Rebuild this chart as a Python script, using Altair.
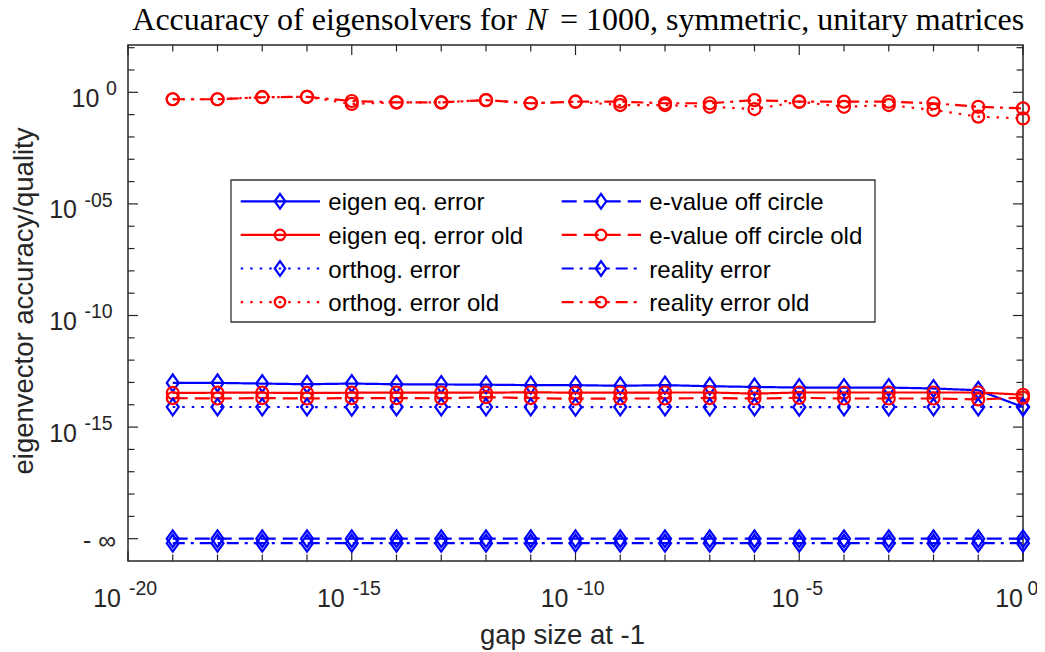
import altair as alt
import pandas as pd

# ---------------- data ----------------
gap_exponent = [-19, -18, -17, -16, -15, -14, -13, -12, -11, -10,
                -9, -8, -7, -6, -5, -4, -3, -2, -1, 0]

series_names = [
    "eigen eq. error", "eigen eq. error old",
    "orthog. error", "orthog. error old",
    "e-value off circle", "e-value off circle old",
    "reality error", "reality error old",
]

# log10 of the plotted values ("-inf" is drawn at 1e-20)
eigen_eq_error = [-13.02, -13.02, -13.05, -13.08, -13.05, -13.08, -13.09, -13.10, -13.12, -13.12,
                  -13.15, -13.12, -13.17, -13.20, -13.23, -13.23, -13.23, -13.27, -13.35, -14.10]
eigen_eq_error_old = [-13.47, -13.46, -13.46, -13.47, -13.46, -13.46, -13.45, -13.46, -13.44, -13.46,
                      -13.46, -13.45, -13.45, -13.50, -13.45, -13.45, -13.45, -13.45, -13.45, -13.55]
orthog_error = [-14.10, -14.10, -14.10, -14.10, -14.11, -14.10, -14.10, -14.10, -14.10, -14.11,
                -14.10, -14.10, -14.10, -14.10, -14.11, -14.10, -14.10, -14.10, -14.10, -14.10]
orthog_error_old = [-0.31, -0.31, -0.22, -0.20, -0.52, -0.45, -0.45, -0.35, -0.49, -0.42,
                    -0.57, -0.57, -0.65, -0.75, -0.42, -0.65, -0.57, -0.79, -1.09, -1.17]
e_value_off_circle = [-20.0, -20.0, -20.0, -20.0, -20.0, -20.0, -20.0, -20.0, -20.0, -20.0,
                      -20.0, -20.0, -20.0, -20.0, -20.0, -20.0, -20.0, -20.0, -20.0, -20.0]
e_value_off_circle_old = [-13.70, -13.72, -13.70, -13.72, -13.70, -13.70, -13.71, -13.66, -13.70, -13.73,
                          -13.72, -13.72, -13.70, -13.72, -13.69, -13.72, -13.72, -13.72, -13.76, -13.68]
reality_error = [-20.2, -20.2, -20.2, -20.2, -20.2, -20.2, -20.2, -20.2, -20.2, -20.2,
                 -20.2, -20.2, -20.2, -20.2, -20.2, -20.2, -20.2, -20.2, -20.2, -20.2]
reality_error_old = [-0.31, -0.31, -0.22, -0.20, -0.39, -0.45, -0.45, -0.35, -0.49, -0.42,
                     -0.42, -0.49, -0.49, -0.35, -0.42, -0.42, -0.42, -0.49, -0.65, -0.72]

series_values = [eigen_eq_error, eigen_eq_error_old, orthog_error, orthog_error_old,
                 e_value_off_circle, e_value_off_circle_old, reality_error, reality_error_old]

# axis tick labels
x_label_exp = ["-20", "-15", "-10", "-5", "0"]
x_label_val = [1e-20, 1e-15, 1e-10, 1e-5, 1e0]
x_label_grp = ["wide", "wide", "wide", "narrow", "zero"]
y_label_exp = ["0", "-05", "-10", "-15"]
y_label_val = [1e0, 1e-5, 1e-10, 1e-15]
y_label_grp = ["zero", "neg", "neg", "neg"]
y_inf_val = [1e-20]
x_tick_exp = list(range(-20, 1))
y_tick_exp = list(range(-20, 3))

title_left = "Accuaracy of eigensolvers for"
title_var = "N"
title_right = "= 1000, symmetric, unitary matrices"
x_title = "gap size at -1"
y_title = "eigenvector accuracy/quality"

# ---------------- styles ----------------
BLUE, RED = "#0000ff", "#ff0000"
series_colors = [BLUE, RED] * 4
SOLID, DOT, DASH, DASHDOT = [1, 0], [2.5, 7], [15, 7], [12, 6, 3, 6]
series_dash = [SOLID, SOLID, DOT, DOT, DASH, DASH, DASHDOT, DASHDOT]
DIAMOND = "M0,-1.4L1,0L0,1.4L-1,0Z"
series_shape = [DIAMOND, "circle"] * 4
AX = "#262626"
SANS = "Liberation Sans"
SERIF = "Liberation Serif"
TITLE_SIZE = 32

W, H = 895, 516

# ---------------- tables ----------------
rows = []
for name, vals in zip(series_names, series_values):
    for e, v in zip(gap_exponent, vals):
        rows.append({"series": name, "gap": 10.0 ** e, "val": 10.0 ** v})
df = pd.DataFrame(rows)

xs = alt.Scale(type="log", domain=[1e-20, 1.0], nice=False)
ys = alt.Scale(type="log", domain=[1e-21, 10 ** 2.12], nice=False)
color = alt.Color("series:N", scale=alt.Scale(domain=series_names, range=series_colors), legend=None)
dash = alt.StrokeDash("series:N", scale=alt.Scale(domain=series_names, range=series_dash), legend=None)
shape = alt.Shape("series:N", scale=alt.Scale(domain=series_names, range=series_shape), legend=None)

X = alt.X("gap:Q", scale=xs, axis=None)
Y = alt.Y("val:Q", scale=ys, axis=None)

base = alt.Chart(df)
lines = base.mark_line(strokeWidth=2.2).encode(x=X, y=Y, color=color, strokeDash=dash)
points = base.mark_point(size=144, strokeWidth=2.2, filled=False, opacity=1).encode(
    x=X, y=Y, color=color, shape=shape)

# ticks (inward, on all four sides)
xt = pd.DataFrame({"v": [10.0 ** e for e in x_tick_exp], "major": [e % 5 == 0 for e in x_tick_exp]})
yt = pd.DataFrame({"v": [10.0 ** e for e in y_tick_exp], "major": [e % 5 == 0 for e in y_tick_exp]})
tick_layers = []
for major, ln in [(True, 10), (False, 6.5)]:
    flt = "datum.major" if major else "!datum.major"
    xc = alt.Chart(xt).transform_filter(flt)
    yc = alt.Chart(yt).transform_filter(flt)
    XT = alt.X("v:Q", scale=xs, axis=None)
    YT = alt.Y("v:Q", scale=ys, axis=None)
    tick_layers += [
        yc.mark_rule(color=AX, strokeWidth=1.2).encode(y=YT, x=alt.value(0), x2=alt.value(ln)),
        yc.mark_rule(color=AX, strokeWidth=1.2).encode(y=YT, x=alt.value(W - ln), x2=alt.value(W)),
        xc.mark_rule(color=AX, strokeWidth=1.2).encode(x=XT, y=alt.value(0), y2=alt.value(ln)),
        xc.mark_rule(color=AX, strokeWidth=1.2).encode(x=XT, y=alt.value(H - ln), y2=alt.value(H)),
    ]

# tick labels
xl = pd.DataFrame({"v": x_label_val, "exp": x_label_exp, "grp": x_label_grp})
yl = pd.DataFrame({"v": y_label_val, "exp": y_label_exp, "grp": y_label_grp})
label_layers = []
for grp, dx_base, dx_exp in [("wide", -7, 1), ("narrow", 0, 6.5), ("zero", 0, 4.5)]:
    c = alt.Chart(xl).transform_filter(f"datum.grp == '{grp}'")
    XT = alt.X("v:Q", scale=xs, axis=None)
    label_layers += [
        c.mark_text(align="right", baseline="alphabetic", dx=dx_base, font=SANS, fontSize=25, color=AX)
         .encode(x=XT, y=alt.value(H + 46), text=alt.value("10")),
        c.mark_text(align="left", baseline="alphabetic", dx=dx_exp, font=SANS, fontSize=19.5, color=AX)
         .encode(x=XT, y=alt.value(H + 34), text="exp:N"),
    ]
for grp, x_base, x_exp in [("zero", -28.7, -22), ("neg", -51, -43.5)]:
    c = alt.Chart(yl).transform_filter(f"datum.grp == '{grp}'")
    YT = alt.Y("v:Q", scale=ys, axis=None)
    label_layers += [
        c.mark_text(align="right", baseline="alphabetic", dy=14.5, font=SANS, fontSize=25, color=AX)
         .encode(y=YT, x=alt.value(x_base), text=alt.value("10")),
        c.mark_text(align="left", baseline="alphabetic", dy=3, font=SANS, fontSize=19.5, color=AX)
         .encode(y=YT, x=alt.value(x_exp), text="exp:N"),
    ]
label_layers.append(
    alt.Chart(pd.DataFrame({"v": y_inf_val, "t": ["- ∞"]}))
    .mark_text(align="right", baseline="alphabetic", dy=10, font=SANS, fontSize=25, color=AX)
    .encode(y=alt.Y("v:Q", scale=ys, axis=None), x=alt.value(-12), text="t:N")
)

# titles
one = pd.DataFrame({"a": [0]})
titles = [
    alt.Chart(one).mark_text(align="right", baseline="alphabetic", font=SERIF, fontSize=TITLE_SIZE, color="black")
      .encode(x=alt.value(389), y=alt.value(-15.5), text=alt.value(title_left)),
    alt.Chart(one).mark_text(align="left", baseline="alphabetic", font=SERIF, fontSize=TITLE_SIZE,
                             fontStyle="italic", color="black")
      .encode(x=alt.value(398), y=alt.value(-15.5), text=alt.value(title_var)),
    alt.Chart(one).mark_text(align="left", baseline="alphabetic", font=SERIF, fontSize=TITLE_SIZE, color="black")
      .encode(x=alt.value(432), y=alt.value(-15.5), text=alt.value(title_right)),
    alt.Chart(one).mark_text(align="center", baseline="alphabetic", font=SANS, fontSize=27.5, color=AX)
      .encode(x=alt.value(434.5), y=alt.value(599), text=alt.value(x_title)),
    alt.Chart(one).mark_text(align="center", baseline="alphabetic", font=SANS, fontSize=27.5, color=AX, angle=270)
      .encode(x=alt.value(-95), y=alt.value(256), text=alt.value(y_title)),
]

# legend (MATLAB style box, two columns)
leg = pd.DataFrame({"series": series_names,
                    "col": [i // 4 for i in range(len(series_names))],
                    "row": [i % 4 for i in range(len(series_names))]})
lc = alt.Chart(leg).transform_calculate(
    lx1="datum.col * 321 + 112.7",
    lx2="datum.col * 321 + 192",
    lxm="datum.col * 321 + 152",
    ltx="datum.col * 321 + 200.3",
    ly="datum.row * 33.6 + 156.3",
)
legend_box = alt.Chart(one).mark_rect(fill="white", stroke="#333333", strokeWidth=1.3).encode(
    x=alt.value(103), x2=alt.value(747), y=alt.value(135), y2=alt.value(277))
legend_lines = lc.mark_rule(strokeWidth=2.2).encode(
    x=alt.X("lx1:Q", scale=None), x2="lx2:Q", y=alt.Y("ly:Q", scale=None), color=color, strokeDash=dash)
legend_marks = lc.mark_point(size=110, strokeWidth=2.2, filled=False, opacity=1).encode(
    x=alt.X("lxm:Q", scale=None), y=alt.Y("ly:Q", scale=None), color=color, shape=shape)
legend_text = lc.mark_text(align="left", baseline="alphabetic", dy=9, font=SANS, fontSize=24, color="black").encode(
    x=alt.X("ltx:Q", scale=None), y=alt.Y("ly:Q", scale=None), text="series:N")

chart = alt.layer(
    *tick_layers, lines, points, *label_layers, *titles,
    legend_box, legend_lines, legend_marks, legend_text,
).properties(
    width=W, height=H,
    autosize=alt.AutoSizeParams(type="none"),
    padding={"left": 120, "top": 37, "right": 14, "bottom": 91},
    background="white",
).configure_view(stroke=AX, strokeWidth=1.5)

chart.save("out.html", embed_options={"renderer": "svg", "actions": False})
